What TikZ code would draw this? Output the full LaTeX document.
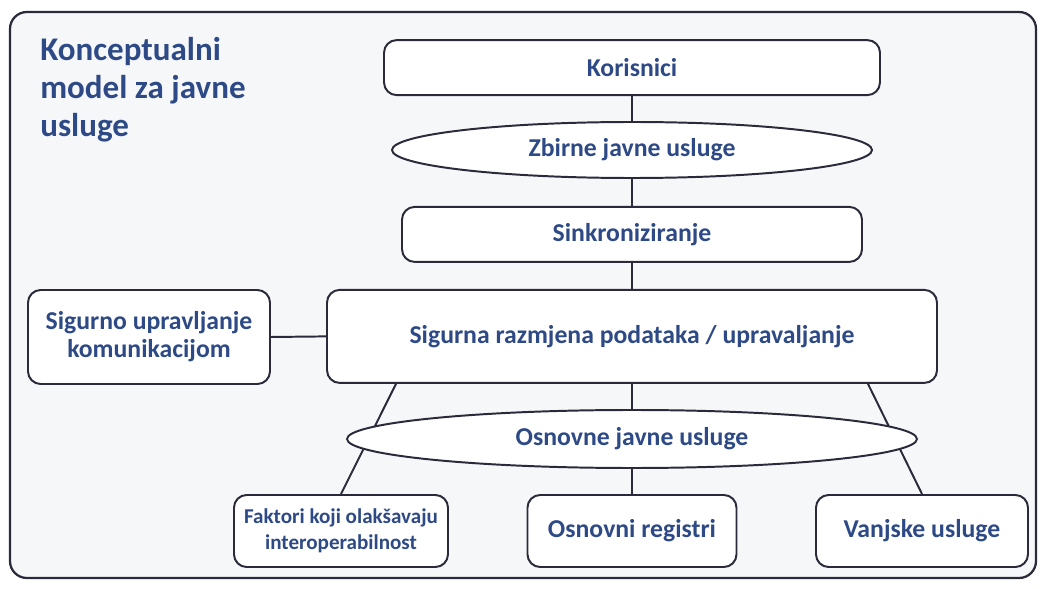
\documentclass[tikz,border=0pt]{standalone}
\usepackage{fontspec}
\setmainfont{Carlito}
\usetikzlibrary{shapes.geometric,calc}

\definecolor{txtblue}{RGB}{46,74,134}
\definecolor{linegray}{RGB}{42,42,58}
\definecolor{panel}{RGB}{246,247,249}

\pgfdeclarelayer{bg}
\pgfdeclarelayer{edges}
\pgfsetlayers{bg,edges,main}

\begin{document}
\begin{tikzpicture}[
  box/.style={draw=linegray, line width=1.4pt, rounded corners=9pt, fill=white,
    text=txtblue, align=center, inner sep=0pt,
    font=\fontsize{18.3}{20}\selectfont\bfseries},
  oval/.style={ellipse, draw=linegray, line width=1.4pt, fill=white,
    text=txtblue, inner sep=0pt, font=\fontsize{18.3}{20}\selectfont\bfseries},
  link/.style={draw=linegray, line width=1.4pt}]

\useasboundingbox (0,0) rectangle (26.025,-14.725);

% panel
\begin{pgfonlayer}{bg}
  \draw[draw=linegray, line width=1.6pt, fill=panel, rounded corners=12pt]
    (0.25,-0.3) rectangle (25.9,-14.45);
\end{pgfonlayer}

\node[anchor=north west, align=left, inner sep=0pt, text=txtblue,
  font=\fontsize{23.5}{27}\selectfont\bfseries] (naslov) at (1.0,-0.92)
  {Konceptualni\\model za javne\\usluge};

% main column
\node[box, minimum width=12.4cm, minimum height=1.375cm] (korisnici) at (15.8,-1.69) {Korisnici};
\node[oval, minimum width=12cm, minimum height=1.4cm] (zbirne) at (15.8,-3.75) {Zbirne javne usluge};
\node[box, minimum width=11.5cm, minimum height=1.375cm] (sinkro) at (15.8,-5.86) {Sinkroniziranje};
\node[box, minimum width=15.25cm, minimum height=2.325cm] (razmjena) at (15.8,-8.41)
  {Sigurna razmjena podataka / upravaljanje};
\node[box, minimum width=6.05cm, minimum height=2.35cm] (komunikacija) at (3.725,-8.425)
  {Sigurno upravljanje\\komunikacijom};
\node[oval, minimum width=14.25cm, minimum height=1.45cm] (osnovne) at (15.8,-10.975) {Osnovne javne usluge};

% bottom row
\node[box, minimum width=5.35cm, minimum height=1.8cm,
  font=\fontsize{15}{18.5}\selectfont\bfseries] (faktori) at (8.525,-13.275)
  {Faktori koji olakšavaju\\interoperabilnost};
\node[box, minimum width=5.225cm, minimum height=1.8cm] (registri) at (15.8,-13.275) {Osnovni registri};
\node[box, minimum width=5.3cm, minimum height=1.8cm] (vanjske) at (23.05,-13.275) {Vanjske usluge};

% connectors
\begin{pgfonlayer}{edges}
  \draw[link] (korisnici.south) -- (zbirne.north);
  \draw[link] (zbirne.south) -- (sinkro.north);
  \draw[link] (sinkro.south) -- (razmjena.north);
  \draw[link] (komunikacija.east) -- (razmjena.west);
  \draw[link] (razmjena.south) -- (osnovne.north);
  \draw[link] (osnovne.south) -- (registri.north);
  \draw[link] ($(razmjena.south west)+(1.75,0)$) -- (faktori.north);
  \draw[link] ($(razmjena.south east)+(-1.75,0)$) -- (vanjske.north);
\end{pgfonlayer}
\end{tikzpicture}
\end{document}
